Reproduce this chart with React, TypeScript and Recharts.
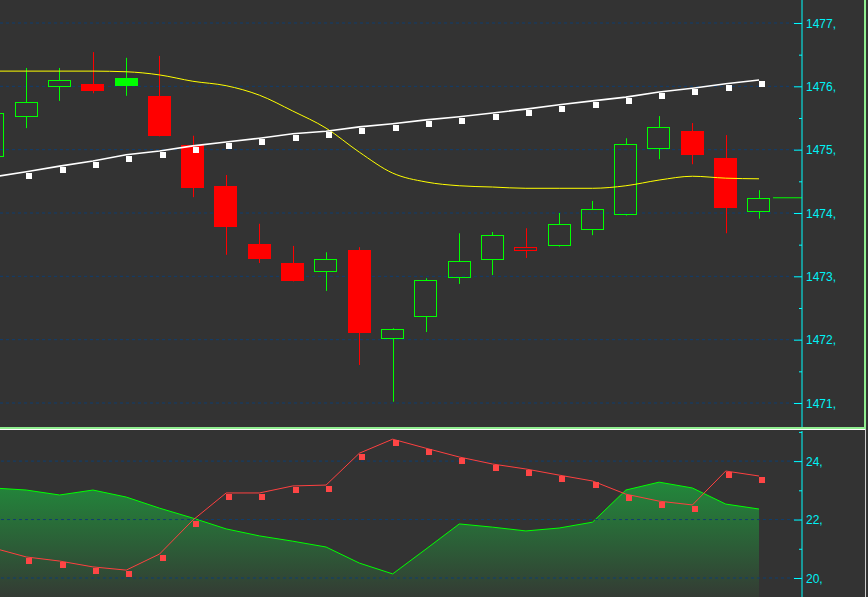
import React from 'react';
import { ComposedChart, XAxis, YAxis, Bar, Line, Area, ReferenceLine, CartesianGrid } from 'recharts';

// bar numbers, left to right (bar 0 is cut by the left edge)
const bars = [0, 1, 2, 3, 4, 5, 6, 7, 8, 9, 10, 11, 12, 13, 14, 15, 16, 17, 18, 19, 20, 21, 22, 23];

const opens = [1474.88, 1475.52, 1475.99, 1476.04, 1476.13, 1475.85, 1475.07, 1474.43, 1473.51, 1473.21, 1473.07, 1473.42,
  1472.01, 1472.36, 1472.97, 1473.26, 1473.40, 1473.48, 1473.73, 1473.97, 1475.01, 1475.29, 1474.87, 1474.02];
const highs = [1475.70, 1476.29, 1476.29, 1476.54, 1476.45, 1476.48, 1475.22, 1474.60, 1473.83, 1473.48, 1473.38, 1473.46,
  1472.18, 1472.97, 1473.68, 1473.70, 1473.76, 1474.00, 1474.19, 1475.18, 1475.53, 1475.42, 1475.23, 1474.36];
const lows = [1474.75, 1475.34, 1475.77, 1475.89, 1475.85, 1475.21, 1474.25, 1473.34, 1473.21, 1472.92, 1472.77, 1471.60,
  1471.02, 1472.12, 1472.88, 1473.02, 1473.29, 1473.47, 1473.65, 1473.96, 1474.85, 1474.77, 1473.68, 1473.91];
const closes = [1475.58, 1475.75, 1476.10, 1475.93, 1476.01, 1475.22, 1474.39, 1473.78, 1473.27, 1472.93, 1473.27, 1472.11,
  1472.17, 1472.94, 1473.24, 1473.65, 1473.46, 1473.83, 1474.06, 1475.09, 1475.36, 1474.92, 1474.08, 1474.24];

const maSlow = [1476.24, 1476.24, 1476.24, 1476.24, 1476.23, 1476.18, 1476.08, 1476.01, 1475.86, 1475.61, 1475.34, 1474.96,
  1474.63, 1474.49, 1474.43, 1474.41, 1474.39, 1474.39, 1474.39, 1474.43, 1474.52, 1474.58, 1474.55, 1474.54];
const maTrend = [1474.57, 1474.65, 1474.74, 1474.82, 1474.92, 1474.98, 1475.06, 1475.12, 1475.18, 1475.25, 1475.29, 1475.36,
  1475.41, 1475.47, 1475.52, 1475.58, 1475.64, 1475.71, 1475.77, 1475.83, 1475.91, 1475.97, 1476.04, 1476.10];

const oscArea = [23.08, 23.01, 22.84, 23.01, 22.77, 22.39, 22.05, 21.68, 21.44, 21.26, 21.06, 20.51,
  20.14, 20.99, 21.85, 21.74, 21.61, 21.71, 21.91, 23.01, 23.28, 23.08, 22.53, 22.36];
const oscLine = [21.03, 20.72, 20.58, 20.38, 20.27, 20.82, 21.98, 22.91, 22.91, 23.15, 23.18, 24.27,
  24.75, 24.44, 24.14, 23.90, 23.73, 23.52, 23.32, 22.87, 22.63, 22.50, 23.66, 23.49];

const priceTicks = [1471, 1471.5, 1472, 1472.5, 1473, 1473.5, 1474, 1474.5, 1475, 1475.5, 1476, 1476.5, 1477];
const priceGrid = [1471, 1472, 1473, 1474, 1475, 1476, 1477];
const oscTicks = [20, 21, 22, 23, 24, 25];
const oscGrid = [20, 22, 24];

const X_DOMAIN: [number, number] = [0.21, 24.29];
const BG = '#333333';
const GREEN = '#00ff00';
const RED = '#ff0000';
const CYAN = '#00ffff';
const GRID = '#0f3e70';

const priceData = bars.map((i) => ({
  i,
  open: opens[i],
  high: highs[i],
  low: lows[i],
  close: closes[i],
  prev: i > 0 ? closes[i - 1] : undefined,
  slow: maSlow[i],
  trend: maTrend[i],
}));

const oscData = bars.map((i) => ({ i, area: oscArea[i], line: oscLine[i] }));

function Candle(props: any) {
  const { x, y, width, height, payload } = props;
  const { open, close, high, low, prev } = payload;
  const ppu = height / (high - low);
  const yOf = (v: number) => y + (high - v) * ppu;
  const ref = prev === undefined ? open : prev;
  const color = close >= ref ? GREEN : RED;
  const hollow = close > open;
  const top = Math.round(yOf(Math.max(open, close)));
  const bot = Math.round(yOf(Math.min(open, close)));
  const cx = Math.round(x + width / 2) + 0.5;
  const left = Math.round(x);
  const w = Math.round(width);
  if (hollow) {
    return (
      <g>
        <line x1={cx} x2={cx} y1={yOf(high)} y2={top} stroke={color} />
        <line x1={cx} x2={cx} y1={bot} y2={yOf(low)} stroke={color} />
        <rect x={left + 0.5} y={top + 0.5} width={w - 1} height={Math.max(bot - top - 1, 1)} fill="none" stroke={color} />
      </g>
    );
  }
  return (
    <g>
      <line x1={cx} x2={cx} y1={yOf(high)} y2={yOf(low)} stroke={color} />
      <rect x={left} y={top} width={w} height={Math.max(bot - top, 1)} fill={color} />
    </g>
  );
}

function makeTick(isMajor: (v: number) => boolean) {
  return function AxisTick(props: any) {
    const { x, y, payload } = props;
    const v = payload.value;
    const major = isMajor(v);
    return (
      <g>
        <line x1={x - (major ? 8 : 3)} x2={x} y1={y + 0.5} y2={y + 0.5} stroke={CYAN} />
        {major && (
          <text x={x + 4} y={y} dy="0.38em" fill="#00f2f6" fontSize={12} fontFamily="Liberation Sans, Arial, sans-serif">
            {`${v},`}
          </text>
        )}
      </g>
    );
  };
}

const PriceTick = makeTick((v) => Number.isInteger(v));
const OscTick = makeTick((v) => v % 2 === 0);

function Square(color: string) {
  return (p: any) => {
    if (p.cx == null || p.cy == null) return <g key={`s${p.index}`} />;
    return <rect key={`s${p.index}`} x={Math.round(p.cx)} y={Math.round(p.cy) + 1} width={6} height={6} fill={color} />;
  };
}

export default function App() {
  const lastIdx = bars[bars.length - 1];
  return (
    <div style={{ position: 'relative', width: 868, height: 597, background: BG, overflow: 'hidden' }}>
      <style>{'body{margin:0;background:#333333}'}</style>
      <div style={{ position: 'absolute', left: 0, top: 0 }}>
        <ComposedChart width={868} height={427} data={priceData} margin={{ top: 0, right: 0, bottom: 0, left: 0 }}>
          <CartesianGrid vertical={false} horizontalValues={priceGrid} stroke={GRID} strokeDasharray="3 3" />
          <XAxis dataKey="i" type="number" domain={X_DOMAIN} allowDataOverflow hide />
          <YAxis
            orientation="right"
            width={66}
            type="number"
            domain={[1470.621, 1477.363]}
            allowDataOverflow
            ticks={priceTicks}
            interval={0}
            tickSize={0}
            tickMargin={0}
            tickLine={false}
            axisLine={{ stroke: CYAN }}
            tick={<PriceTick />}
          />
          <Bar dataKey={(d: any) => [d.low, d.high]} barSize={23} shape={<Candle />} isAnimationActive={false} />
          <Line dataKey="slow" type="monotone" stroke="#ffff00" strokeWidth={1} dot={false} isAnimationActive={false} />
          <Line dataKey="trend" type="linear" stroke="#ffffff" strokeWidth={1.6} dot={Square('#ffffff')} isAnimationActive={false} />
          <ReferenceLine
            segment={[{ x: lastIdx + 0.42, y: closes[lastIdx] }, { x: X_DOMAIN[1], y: closes[lastIdx] }]}
            stroke={GREEN}
          />
        </ComposedChart>
      </div>
      {/* panel borders */}
      <div style={{ position: 'absolute', left: 864, top: 0, width: 2, height: 429, background: '#90ee90' }} />
      <div style={{ position: 'absolute', left: 0, top: 427, width: 866, height: 2, background: '#90ee90' }} />
      <div style={{ position: 'absolute', left: 0, top: 429, width: 866, height: 1, background: '#ffffff' }} />
      <div style={{ position: 'absolute', left: 865, top: 429, width: 1, height: 168, background: '#cfcfcf' }} />
      <div style={{ position: 'absolute', left: 0, top: 431 }}>
        <ComposedChart width={868} height={166} data={oscData} margin={{ top: 0, right: 0, bottom: 0, left: 0 }}>
          <defs>
            <linearGradient id="oscFill" x1="0" y1="0" x2="0" y2="1">
              <stop offset="0%" stopColor="#22883b" />
              <stop offset="100%" stopColor="#343b34" />
            </linearGradient>
          </defs>
          <XAxis dataKey="i" type="number" domain={X_DOMAIN} allowDataOverflow hide />
          <YAxis
            orientation="right"
            width={66}
            type="number"
            domain={[19.35, 25.03]}
            allowDataOverflow
            ticks={oscTicks}
            interval={0}
            tickSize={0}
            tickMargin={0}
            tickLine={false}
            axisLine={{ stroke: CYAN }}
            tick={<OscTick />}
          />
          <Area dataKey="area" type="linear" stroke={GREEN} strokeWidth={1} fill="url(#oscFill)" fillOpacity={1} isAnimationActive={false} />
          {oscGrid.map((v) => (
            <ReferenceLine key={v} y={v} stroke={GRID} strokeDasharray="3 3" />
          ))}
          <Line dataKey="line" type="linear" stroke="#ff4040" strokeWidth={1} dot={Square('#ff4545')} isAnimationActive={false} />
        </ComposedChart>
      </div>
    </div>
  );
}
